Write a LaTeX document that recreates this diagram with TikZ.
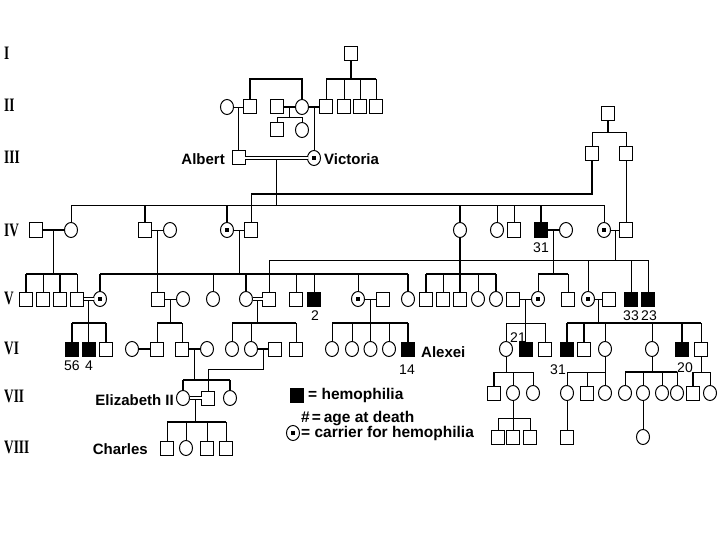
\documentclass[tikz,border=0pt]{standalone}
\usepackage{fontspec}
\usetikzlibrary{calc,shapes.geometric}
\newfontfamily\namefont{Liberation Sans}
\newfontfamily\romfont[FakeStretch=0.7]{Liberation Serif}
\newcommand\mkmid[3]{\coordinate (#1) at ($(#2.east)!0.5!(#3.west)$);}
\newcommand\drops[3][thn]{\foreach \kid in {#3}{\draw[#1] (\kid.north) -- (\kid.north |- #2);}}
\newcommand\sibbar[4][thn]{\draw[#1] (#3.north |- #2) -- (#4.north |- #2);}
\newcommand\pdown[3][thn]{\draw[#1] (#2) -- (#2 |- #3);}
\begin{document}
\begin{tikzpicture}[x=1pt,y=-1pt,
  base/.style={draw, line width=1pt, inner sep=0pt, outer sep=0pt},
  male/.style={base, rectangle, minimum width=13pt, minimum height=14pt},
  fem/.style={base, ellipse, minimum width=13pt, minimum height=15pt},
  aff/.style={male, fill=black},
  car/.style={fem, path picture={\fill[black] ($(path picture bounding box.center)+(-1.8pt,-1.8pt)$) rectangle ++(3.6pt,3.6pt);}},
  thn/.style={line width=0.9pt},
  thk/.style={line width=1.8pt},
  dbl/.style={line width=0.9pt, double, double distance=2.6pt},
  nm/.style={font=\namefont\bfseries\fontsize{15}{17}\selectfont, inner sep=0pt},
  num/.style={font=\namefont\fontsize{14}{16}\selectfont, inner sep=0pt},
  rom/.style={font=\romfont\bfseries\fontsize{19}{21}\selectfont, anchor=west, inner sep=0pt},
  leg/.style={font=\namefont\bfseries\fontsize{15.5}{17}\selectfont, anchor=west, inner sep=0pt}]
\fill[white] (0,0) rectangle (720,540);
\useasboundingbox (0,0) rectangle (720,540);
% generation labels
\node[rom] (gI) at (4,53) {I};
\node[rom] (gII) at (4,105) {II};
\node[rom] (gIII) at (4,157) {III};
\node[rom] (gIV) at (4,230) {IV};
\node[rom] (gV) at (4,298) {V};
\node[rom] (gVI) at (4,348) {VI};
\node[rom] (gVII) at (4,396) {VII};
\node[rom] (gVIII) at (4,447) {VIII};
% bar levels
\coordinate (yI) at (0,79);
\coordinate (yII) at (0,117);
\coordinate (yR) at (0,132);
\coordinate (y194) at (0,194);
\coordinate (yIV) at (0,205);
\coordinate (y260) at (0,260);
\coordinate (yV) at (0,274);
\coordinate (yVI) at (0,323);
\coordinate (yPh) at (0,369);
\coordinate (yVIIL) at (0,380);
\coordinate (yVIIR) at (0,372);
\coordinate (yVIIIL) at (0,422);
\coordinate (yVIIIR) at (0,418);
% Gen I
\node[male] (I1) at (351,54) {};
% Gen II
\node[fem] (II1) at (227,107) {};
\node[male] (II2) at (250,107) {};
\node[male] (II3) at (277,107) {};
\node[fem] (II4) at (302,107) {};
\node[male] (II5) at (326,107) {};
\node[male] (II6) at (344,107) {};
\node[male] (II7) at (360,107) {};
\node[male] (II8) at (376,107) {};
\node[male] (II9) at (277,130) {};
\node[fem] (II10) at (302,130) {};
\node[male] (R1) at (608,114) {};
\node[male] (R2) at (592,154) {};
\node[male] (R3) at (626,154) {};
% Gen III
\node[male] (Alb) at (238.5,158) {};
\node[car] (Vic) at (314,158) {};
\node[nm, anchor=east] (tAlb) at (225,159) {Albert};
\node[nm, anchor=west] (tVic) at (324,159) {Victoria};
% Gen IV
\node[male] (IV1) at (36,230) {};
\node[fem] (IV2) at (71,230) {};
\node[male] (IV3) at (145,230) {};
\node[fem] (IV4) at (170,230) {};
\node[car] (IV5) at (227,230) {};
\node[male] (IV6) at (251,230) {};
\node[fem] (IV7) at (460,230) {};
\node[fem] (IV8) at (497,230) {};
\node[male] (IV9) at (514,230) {};
\node[aff] (IV10) at (541,230) {};
\node[fem] (IV11) at (566,230) {};
\node[car] (IV12) at (604,230) {};
\node[male] (IV13) at (626,230) {};
\node[num] (n31a) at (541,248) {31};
% Gen V
\node[male] (V1) at (26,299) {};
\node[male] (V2) at (43,299) {};
\node[male] (V3) at (60,299) {};
\node[male] (V4) at (77,299) {};
\node[car] (V5) at (100,299) {};
\node[male] (V6) at (157.5,299) {};
\node[fem] (V7) at (183,299) {};
\node[fem] (V8) at (213,299) {};
\node[fem] (V9) at (246,299) {};
\node[male] (V10) at (269,299) {};
\node[male] (V11) at (296,299) {};
\node[aff] (V12) at (314,299) {};
\node[car] (V13) at (358,299) {};
\node[male] (V14) at (383,299) {};
\node[fem] (V15) at (408,299) {};
\node[male] (V16) at (426,299) {};
\node[male] (V17) at (443,299) {};
\node[male] (V18) at (460,299) {};
\node[fem] (V19) at (478,299) {};
\node[fem] (V20) at (496,299) {};
\node[male] (V21) at (513,299) {};
\node[car] (V22) at (538,299) {};
\node[male] (V23) at (568,299) {};
\node[car] (V24) at (588,299) {};
\node[male] (V25) at (609,299) {};
\node[aff] (V26) at (631,299) {};
\node[aff] (V27) at (648,299) {};
\node[num] (n2) at (315,316) {2};
\node[num] (n33) at (631,316) {33};
\node[num] (n23) at (649,316) {23};
% Gen VI
\node[aff] (VI1) at (72,349) {};
\node[aff] (VI2) at (88.5,349) {};
\node[male] (VI3) at (106,349) {};
\node[fem] (VI4) at (132,349) {};
\node[male] (VI5) at (157,349) {};
\node[male] (VI6) at (182,349) {};
\node[fem] (VI7) at (207,349) {};
\node[fem] (VI8) at (232,349) {};
\node[fem] (VI9) at (251,349) {};
\node[male] (VI10) at (275,349) {};
\node[male] (VI11) at (296,349) {};
\node[fem] (VI12) at (332,349) {};
\node[fem] (VI13) at (352,349) {};
\node[fem] (VI14) at (370.5,349) {};
\node[fem] (VI15) at (389,349) {};
\node[aff] (VI16) at (408,349) {};
\node[fem] (VI17) at (506,349) {};
\node[aff] (VI18) at (525.5,349) {};
\node[male] (VI19) at (545,349) {};
\node[aff] (VI20) at (567,349) {};
\node[male] (VI21) at (584,349) {};
\node[fem] (VI22) at (605,349) {};
\node[fem] (VI23) at (652,349) {};
\node[aff] (VI24) at (682,349) {};
\node[male] (VI25) at (701,349) {};
\node[num] (n56) at (72,366) {56};
\node[num] (n4) at (89,366) {4};
\node[num] (n14) at (407,370) {14};
\node[num] (n21) at (518,338) {21};
\node[num] (n31b) at (558,370) {31};
\node[num] (n20) at (685,368) {20};
\node[nm, anchor=west] (tAlx) at (421,352) {Alexei};
% Gen VII
\node[fem] (VII1) at (183,398) {};
\node[male] (VII2) at (208,398) {};
\node[fem] (VII3) at (230,398) {};
\node[nm, anchor=east] (tEl) at (174,400) {Elizabeth II};
\node[male] (VII4) at (494,393) {};
\node[fem] (VII5) at (513,393) {};
\node[fem] (VII6) at (533,393) {};
\node[fem] (VII7) at (567,393) {};
\node[male] (VII8) at (587,393) {};
\node[fem] (VII9) at (605,393) {};
\node[fem] (VII10) at (625,393) {};
\node[fem] (VII11) at (643,393) {};
\node[fem] (VII12) at (662,393) {};
\node[fem] (VII13) at (677,393) {};
\node[male] (VII14) at (693,393) {};
\node[fem] (VII15) at (710,393) {};
% Gen VIII
\node[male] (VIII1) at (167,448) {};
\node[fem] (VIII2) at (186,448) {};
\node[male] (VIII3) at (207,448) {};
\node[male] (VIII4) at (226,448) {};
\node[nm, anchor=east] (tCh) at (148,449) {Charles};
\node[male] (VIII5) at (498,437) {};
\node[male] (VIII6) at (513,437) {};
\node[male] (VIII7) at (530,437) {};
\node[male] (VIII8) at (567,437) {};
\node[fem] (VIII9) at (643,437) {};
% legend
\node[aff] (L1) at (297,395) {};
\node[leg] (tL1) at (308,395) {= hemophilia};
\node[leg] (tL2) at (301,419) {\#\hspace{2pt}=\hspace{3pt}age at death};
\node[car] (L2) at (293,433) {};
\node[leg] (tL3) at (301,433) {= carrier for hemophilia};
% ---- connectors ----
% I -> II
\draw[thk] (I1.south) -- (I1.south |- yI);
\sibbar[thk]{yI}{II5}{II8}
\drops{yI}{II5,II6,II7,II8}
\draw[thk] (II2.north) -- (II2.north |- yI) -- (II4.north |- yI) -- (II4.north);
\draw[thn] (II1) -- (II2);
\draw[thk] (II3) -- (II4);
\draw[thk] (II4) -- (II5);
\mkmid{m12}{II1}{II2}
\draw[thn] (m12) -- (Alb.north);
\mkmid{m34}{II3}{II4}
\pdown{m34}{yII}
\sibbar{yII}{II9}{II10}
\drops{yII}{II9,II10}
\mkmid{m45}{II4}{II5}
\draw[thn] (m45) -- (Vic.north);
\draw[thk] (R1.south) -- (R1.south |- yR);
\sibbar{yR}{R2}{R3}
\drops{yR}{R2,R3}
% III -> IV
\draw[dbl] (Alb) -- (Vic);
\mkmid{mAV}{Alb}{Vic}
\draw[thn] ($(mAV)+(0,1.5)$) -- (mAV |- yIV);
\sibbar{yIV}{IV2}{IV12}
\drops{yIV}{IV2,IV8,IV9,IV12}
\drops[thk]{yIV}{IV3,IV5,IV7,IV10}
\draw[thk] (R2.south) -- (R2.south |- y194) -- (IV6.north |- y194);
\draw[thn] (IV6.north |- y194) -- (IV6.north);
\draw[thn] (R3) -- (IV13);
% IV marriages and V
\draw[thk] (IV1) -- (IV2);
\draw[thn] (IV3) -- (IV4);
\draw[thn] (IV5) -- (IV6);
\draw[thk] (IV10) -- (IV11);
\draw[thn] (IV12) -- (IV13);
\mkmid{mIV12}{IV1}{IV2}
\pdown{mIV12}{yV}
\sibbar[thk]{yV}{V1}{V4}
\drops[thk]{yV}{V1,V3}
\drops{yV}{V2,V4}
\mkmid{mIV34}{IV3}{IV4}
\draw[thn] (mIV34) -- (V6.north);
\mkmid{mIV56}{IV5}{IV6}
\pdown{mIV56}{yV}
\sibbar[thk]{yV}{V5}{V15}
\drops[thk]{yV}{V5,V9,V15}
\drops{yV}{V8,V11,V12,V13}
\draw[thk] (IV7.south) -- (IV7.south |- yV);
\sibbar[thk]{yV}{V16}{V20}
\drops[thk]{yV}{V16,V18,V20}
\drops{yV}{V17,V19}
\mkmid{mIV1011}{IV10}{IV11}
\pdown{mIV1011}{yV}
\sibbar[thk]{yV}{V22}{V23}
\drops{yV}{V22,V23}
\mkmid{mIV1213}{IV12}{IV13}
\pdown{mIV1213}{y260}
\sibbar{y260}{V10}{V27}
\drops{y260}{V10,V24,V26,V27}
% V marriages and VI
\draw[dbl] (V4) -- (V5);
\draw[thn] (V6) -- (V7);
\draw[dbl] (V9) -- (V10);
\draw[thn] (V13) -- (V14);
\draw[thn] (V21) -- (V22);
\draw[thn] (V24) -- (V25);
\mkmid{mV45}{V4}{V5}
\draw[thn] ($(mV45)+(0,1.5)$) -- (mV45 |- yVI);
\sibbar[thk]{yVI}{VI1}{VI3}
\drops[thk]{yVI}{VI1,VI2,VI3}
\mkmid{mV67}{V6}{V7}
\pdown{mV67}{yVI}
\sibbar[thk]{yVI}{VI5}{VI6}
\drops{yVI}{VI5,VI6}
\mkmid{mV910}{V9}{V10}
\draw[thn] ($(mV910)+(0,1.5)$) -- (mV910 |- yVI);
\sibbar[thk]{yVI}{VI8}{VI11}
\drops{yVI}{VI8,VI9,VI11}
\mkmid{mV1314}{V13}{V14}
\pdown[thk]{mV1314}{yVI}
\sibbar[thk]{yVI}{VI12}{VI16}
\drops{yVI}{VI12,VI13,VI15}
\drops[thk]{yVI}{VI14,VI16}
\mkmid{mV2122}{V21}{V22}
\pdown{mV2122}{yVI}
\sibbar{yVI}{VI17}{VI19}
\drops{yVI}{VI17,VI18,VI19}
\mkmid{mV2425}{V24}{V25}
\pdown[thk]{mV2425}{yVI}
\sibbar[thk]{yVI}{VI20}{VI25}
\drops[thk]{yVI}{VI20,VI21,VI24}
\drops{yVI}{VI22,VI23,VI25}
% VI marriages and VII
\draw[thk] (VI4) -- (VI5);
\draw[thk] (VI6) -- (VI7);
\draw[thk] (VI9) -- (VI10);
\mkmid{mVI67}{VI6}{VI7}
\pdown{mVI67}{yVIIL}
\sibbar[thk]{yVIIL}{VII1}{VII3}
\drops[thk]{yVIIL}{VII1,VII3}
\mkmid{mVI910}{VI9}{VI10}
\draw[thn] (mVI910) -- (mVI910 |- yPh) -- (VII2.north |- yPh) -- (VII2.north);
\draw[thn] (VI17.south) -- (VI17.south |- yVIIR);
\sibbar{yVIIR}{VII4}{VII6}
\drops[thk]{yVIIR}{VII4}
\drops{yVIIR}{VII5,VII6}
\draw[thn] (VI22.south) -- (VI22.south |- yVIIR);
\sibbar{yVIIR}{VII7}{VII9}
\drops{yVIIR}{VII7,VII8,VII9}
\draw[thn] (VI23.south) -- (VI23.south |- yVIIR);
\sibbar[thk]{yVIIR}{VII10}{VII13}
\drops{yVIIR}{VII10,VII11,VII12,VII13}
\draw[thn] (VI25.south) -- (VI25.south |- yVIIR);
\sibbar{yVIIR}{VII14}{VII15}
\drops[thk]{yVIIR}{VII14}
\drops{yVIIR}{VII15}
% VII -> VIII
\draw[dbl] (VII1) -- (VII2);
\mkmid{mVII12}{VII1}{VII2}
\draw[thn] ($(mVII12)+(0,1.5)$) -- (mVII12 |- yVIIIL);
\sibbar[thk]{yVIIIL}{VIII1}{VIII4}
\drops{yVIIIL}{VIII1,VIII2,VIII3,VIII4}
\draw[thn] (VII5.south) -- (VII5.south |- yVIIIR);
\sibbar{yVIIIR}{VIII5}{VIII7}
\drops{yVIIIR}{VIII5,VIII6,VIII7}
\draw[thn] (VII7.south) -- (VIII8.north);
\draw[thn] (VII11.south) -- (VIII9.north);
\end{tikzpicture}
\end{document}
